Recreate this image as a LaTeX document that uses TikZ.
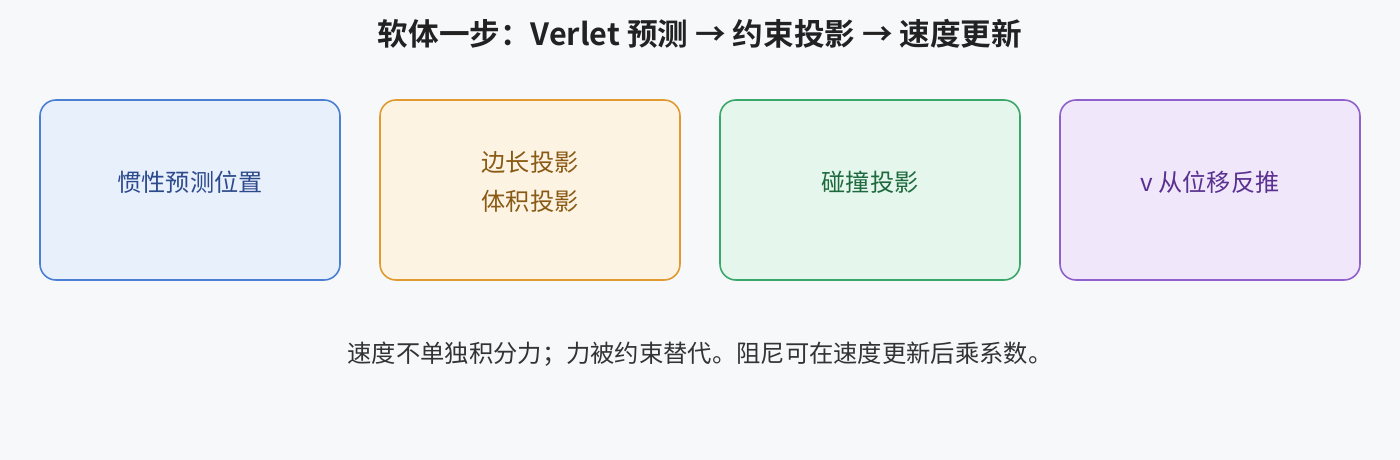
\documentclass[tikz,border=0pt]{standalone}
\usepackage{fontspec}
\setmainfont{Noto Sans CJK SC}[BoldFont=* Bold]
\definecolor{bg}{HTML}{F7F8FA}
\definecolor{f1}{HTML}{E8F0FC}\definecolor{s1}{HTML}{4A7FD4}\definecolor{t1}{HTML}{2C4A8C}
\definecolor{f2}{HTML}{FCF3E3}\definecolor{s2}{HTML}{E09A30}\definecolor{t2}{HTML}{8A5A14}
\definecolor{f3}{HTML}{E5F6EC}\definecolor{s3}{HTML}{3AA86A}\definecolor{t3}{HTML}{1E6A3E}
\definecolor{f4}{HTML}{F0E8FA}\definecolor{s4}{HTML}{9060CC}\definecolor{t4}{HTML}{5A3090}
\definecolor{ttl}{HTML}{222222}\definecolor{note}{HTML}{333333}
\tikzset{
  stagebox/.style={draw, line width=1.6pt, rounded corners=16pt, minimum width=300pt, minimum height=180pt, inner sep=0pt},
  stagetext/.style={font=\fontsize{24.2}{39}\selectfont, align=center, inner sep=0pt},
}
\begin{document}
\begin{tikzpicture}[x=1pt,y=-1pt]
\fill[bg] (0,0) rectangle (1400,460);
\useasboundingbox (0,0) rectangle (1400,460);
\node[font=\fontsize{30.6}{36}\selectfont\bfseries, text=ttl] (title) at (700,34) {软体一步：Verlet 预测 → 约束投影 → 速度更新};
\node[stagebox, fill=f1, draw=s1] (b1) at (190,190) {};
\node[stagebox, fill=f2, draw=s2] (b2) at (530,190) {};
\node[stagebox, fill=f3, draw=s3] (b3) at (870,190) {};
\node[stagebox, fill=f4, draw=s4] (b4) at (1210,190) {};
\node[stagetext, text=t1] (l1) at ([yshift=8pt]b1.center) {惯性预测位置};
\node[stagetext, text=t2] (l2) at ([yshift=8pt]b2.center) {边长投影\\体积投影};
\node[stagetext, text=t3] (l3) at ([yshift=8pt]b3.center) {碰撞投影};
\node[stagetext, text=t4] (l4) at ([yshift=8pt]b4.center) {v 从位移反推};
\node[font=\fontsize{24.3}{28}\selectfont, text=note] (note) at (700,354) {速度不单独积分力；力被约束替代。阻尼可在速度更新后乘系数。};
\end{tikzpicture}
\end{document}
